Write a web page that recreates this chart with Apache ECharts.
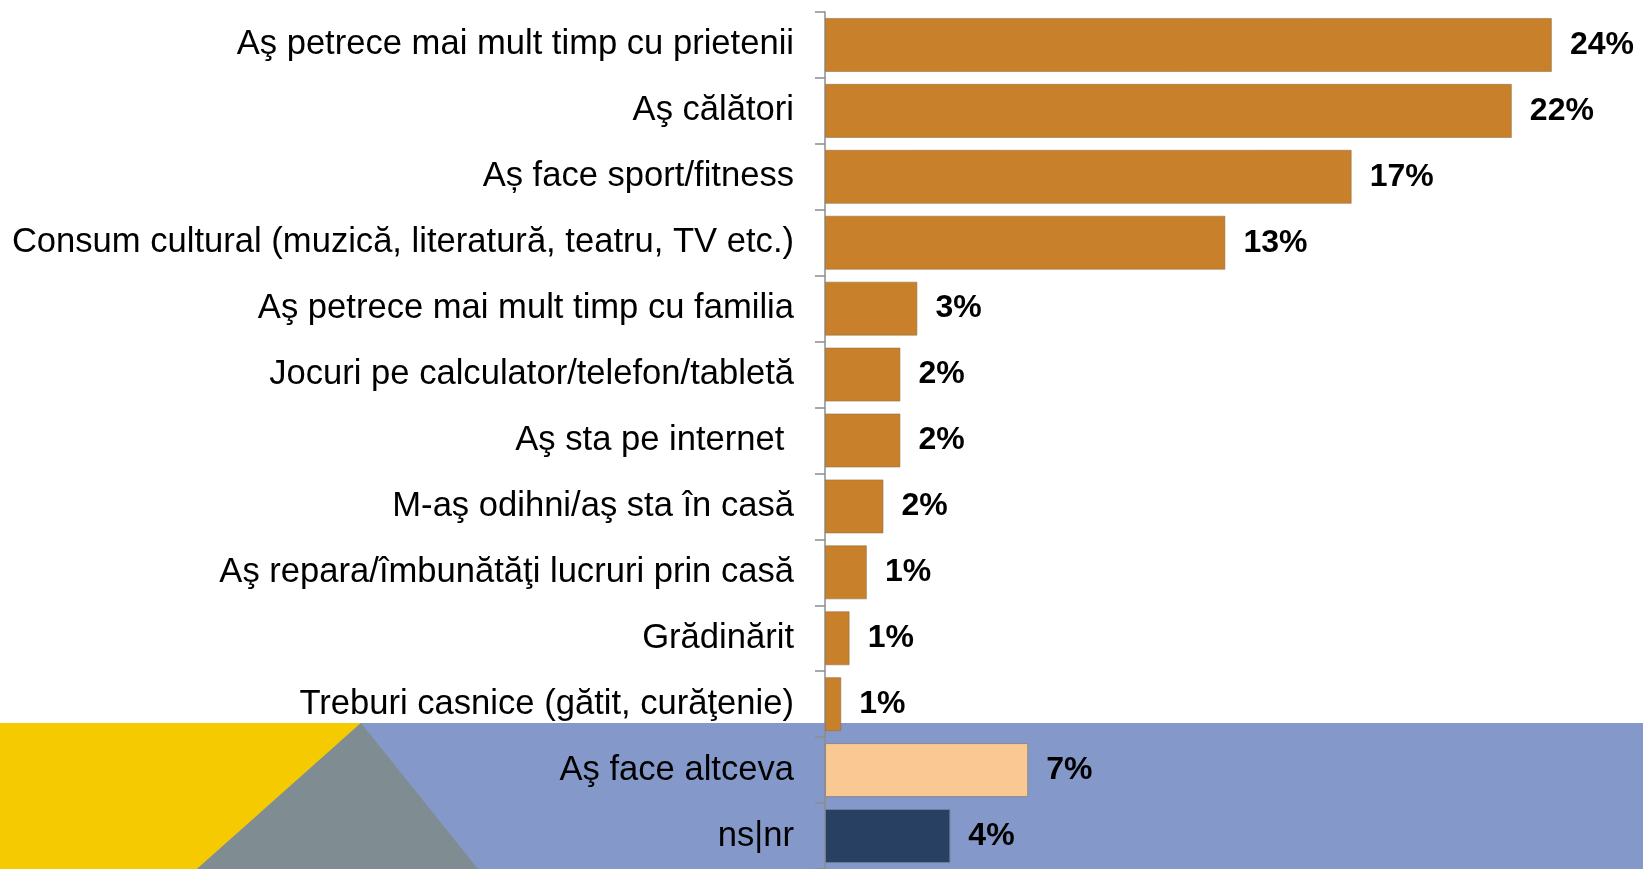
<!DOCTYPE html>
<html>
<head>
<meta charset="utf-8">
<script src="https://cdn.jsdelivr.net/npm/echarts@6/dist/echarts.min.js"></script>
<style>
  html, body { margin: 0; padding: 0; background: #ffffff; }
  #chart { width: 1643px; height: 869px; }
</style>
</head>
<body>
<div id="chart"></div>
<script>
// Ce ar face respondenţii cu timpul liber suplimentar
const categories = [
  'Aş petrece mai mult timp cu prietenii',
  'Aş călători',
  'Aș face sport/fitness',
  'Consum cultural (muzică, literatură, teatru, TV etc.)',
  'Aş petrece mai mult timp cu familia',
  'Jocuri pe calculator/telefon/tabletă',
  'Aş sta pe internet ',
  'M-aş odihni/aş sta în casă',
  'Aş repara/îmbunătăţi lucruri prin casă',
  'Grădinărit',
  'Treburi casnice (gătit, curăţenie)',
  'Aş face altceva',
  'ns|nr'
];
const values = [23.6, 22.3, 17.1, 13.0, 3.0, 2.45, 2.45, 1.9, 1.36, 0.8, 0.53, 6.6, 4.07];
// grup: 0 = activităţi, 1 = altceva, 2 = ns|nr
const groups = [0, 0, 0, 0, 0, 0, 0, 0, 0, 0, 0, 1, 2];

const groupColors = ['#C8812A', '#FAC993', '#284162'];
const groupBorders = ['rgba(140,110,70,0.55)', '#8a8a8a', '#6f7f95'];

const chart = echarts.init(document.getElementById('chart'), null, { renderer: 'canvas' });

const W = 1643, H = 869, bandTop = 723;
const FONT = 'Liberation Sans, Arial, Helvetica, sans-serif';

chart.setOption({
  animation: false,
  backgroundColor: '#ffffff',
  graphic: [
    { type: 'rect', z: -10, shape: { x: 0, y: bandTop, width: W, height: H - bandTop }, style: { fill: '#8499C9' } },
    { type: 'polygon', z: -9, shape: { points: [[0, bandTop], [361, bandTop], [197, H], [0, H]] }, style: { fill: '#F6CA00' } },
    { type: 'polygon', z: -9, shape: { points: [[361, bandTop], [197, H], [478, H]] }, style: { fill: '#7F8D93' } }
  ],
  grid: { left: 825, top: 12, right: 48, height: 861, containLabel: false },
  xAxis: { type: 'value', min: 0, max: 25, show: false },
  yAxis: {
    type: 'category',
    inverse: true,
    data: categories,
    axisLine: { show: true, lineStyle: { color: '#8c8c8c', width: 1.5 } },
    axisTick: { show: true, length: 10, lineStyle: { color: '#8c8c8c', width: 1.5 } },
    axisLabel: {
      margin: 31,
      color: '#000000',
      fontFamily: FONT,
      fontSize: 34.6
    },
    splitLine: { show: false }
  },
  series: [{
    type: 'bar',
    barCategoryGap: '18%',
    data: values.map((v, i) => ({
      value: v,
      itemStyle: { color: groupColors[groups[i]], borderColor: groupBorders[groups[i]], borderWidth: 1 }
    })),
    label: {
      show: true,
      position: 'right',
      distance: 18,
      formatter: p => Math.round(p.value) + '%',
      color: '#000000',
      fontWeight: 'bold',
      fontFamily: FONT,
      fontSize: 32
    }
  }]
});
</script>
</body>
</html>
